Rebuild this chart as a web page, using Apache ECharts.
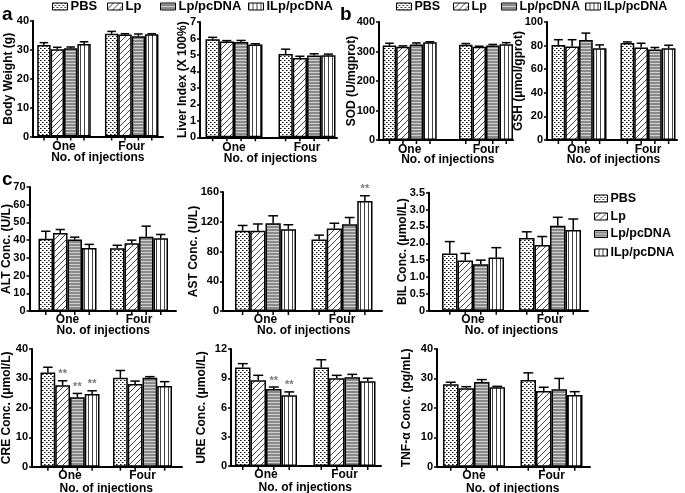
<!DOCTYPE html>
<html><head><meta charset="utf-8">
<script src="https://cdn.jsdelivr.net/npm/echarts@6/dist/echarts.min.js"></script>
<style>html,body{margin:0;padding:0;background:#fff}#c{width:685px;height:493px}</style>
</head><body><div id="c"></div>
<script>
// ---------------- DATA ----------------
const groups = ['One', 'Four'];
const seriesNames = ['PBS', 'Lp', 'Lp/pcDNA', 'ILp/pcDNA'];
// rows = treatment (PBS, Lp, Lp/pcDNA, ILp/pcDNA); columns = [One, Four]
const bodyWeightMean = [[31.7, 35.6], [30.2, 35.3], [30.6, 34.7], [32.0, 35.4]];
const bodyWeightErr  = [[0.8, 0.8], [0.7, 0.3], [0.4, 0.8], [0.8, 0.2]];
const bodyWeightTicks = [0, 10, 20, 30, 40];

const liverIndexMean = [[5.95, 5.05], [5.82, 4.82], [5.78, 4.97], [5.63, 4.98]];
const liverIndexErr  = [[0.12, 0.3], [0.05, 0.1], [0.1, 0.1], [0.05, 0.07]];
const liverIndexTicks = [0, 1, 2, 3, 4, 5, 6, 7];

const sodMean = [[320, 323], [316, 316], [324, 320], [331, 325]];
const sodErr  = [[8, 4], [3, 2], [5, 4], [2, 5]];
const sodTicks = [0, 100, 200, 300, 400];

const gshMean = [[80.6, 82.2], [79.2, 78.4], [84.8, 76.6], [77.8, 77.8]];
const gshErr  = [[4.4, 0.9], [5.8, 3.6], [5.8, 1.8], [2.8, 2.5]];
const gshTicks = [0, 20, 40, 60, 80, 100];

const altMean = [[40.8, 35.4], [44.1, 38.2], [40.4, 41.9], [35.6, 41.0]];
const altErr  = [[4.2, 1.7], [1.9, 1.8], [1.3, 6.0], [2.0, 2.2]];
const altTicks = [0, 10, 20, 30, 40, 50, 60, 70];

const astMean = [[108, 96], [108, 111], [118, 116.7], [110, 148]];
const astErr  = [[7, 6], [9, 7], [10, 9], [6, 7]];
const astSig  = [['', ''], ['', ''], ['', ''], ['', '**']];
const astTicks = [0, 40, 80, 120, 160];

const bilMean = [[1.70, 2.16], [1.49, 1.95], [1.38, 2.52], [1.58, 2.39]];
const bilErr  = [[0.35, 0.18], [0.21, 0.25], [0.12, 0.25], [0.29, 0.33]];
const bilTicks = [0, 0.5, 1.0, 1.5, 2.0, 2.5, 3.0, 3.5];

const creMean = [[32.0, 30.2], [27.7, 28.1], [23.6, 30.2], [24.7, 27.4]];
const creErr  = [[1.8, 2.5], [1.5, 1.0], [1.3, 0.4], [1.1, 1.5]];
const creSig  = [['', ''], ['**', ''], ['**', ''], ['**', '']];
const creTicks = [0, 10, 20, 30, 40];

const ureMean = [[10.1, 10.1], [8.8, 9.0], [7.9, 9.1], [7.25, 8.7]];
const ureErr  = [[0.4, 0.8], [0.5, 0.3], [0.2, 0.3], [0.35, 0.3]];
const ureSig  = [['', ''], ['', ''], ['**', ''], ['**', '']];
const ureTicks = [0, 3, 6, 9, 12];

const tnfMean = [[28.0, 29.5], [26.7, 25.7], [28.8, 26.3], [27.0, 24.4]];
const tnfErr  = [[0.7, 2.4], [0.5, 1.3], [0.8, 3.7], [0.3, 1.1]];
const tnfTicks = [0, 10, 20, 30, 40];

// ---------------- PANELS (data + axis titles) ----------------
const panels = [
  { mean: bodyWeightMean, err: bodyWeightErr, sig: null, ticks: bodyWeightTicks, title: 'Body Weight (g)' },
  { mean: liverIndexMean, err: liverIndexErr, sig: null, ticks: liverIndexTicks, title: 'Liver Index (X 100%)' },
  { mean: sodMean, err: sodErr, sig: null, ticks: sodTicks, title: 'SOD (U/mgprot)' },
  { mean: gshMean, err: gshErr, sig: null, ticks: gshTicks, title: 'GSH (μmol/gprot)' },
  { mean: altMean, err: altErr, sig: null, ticks: altTicks, title: 'ALT Conc. (U/L)' },
  { mean: astMean, err: astErr, sig: astSig, ticks: astTicks, title: 'AST Conc. (U/L)' },
  { mean: bilMean, err: bilErr, sig: null, ticks: bilTicks, title: 'BIL Conc. (μmol/L)', dec: 1 },
  { mean: creMean, err: creErr, sig: creSig, ticks: creTicks, title: 'CRE Conc. (μmol/L)' },
  { mean: ureMean, err: ureErr, sig: ureSig, ticks: ureTicks, title: 'URE Conc. (μmol/L)' },
  { mean: tnfMean, err: tnfErr, sig: null, ticks: tnfTicks, title: 'TNF-α Conc. (pg/mL)' }
];

// ---------------- LAYOUT (pixels) ----------------
// [axisLeft, axisRight, top, zeroY, groupCenter1, groupCenter2, groupWidth, yNameGap, xLabelMargin, xNameGap]
const layouts = [
  [33, 163, 21, 136.5, 64, 131.7, 53.5, 18, 4, 15],
  [200, 337, 22, 137.3, 234, 307, 57, 11, 4, 15],
  [379, 513, 22, 140, 409.7, 486, 54, 21, 4, 14],
  [547, 677, 22, 140, 579, 648, 55, 22, 4, 14],
  [29.5, 176, 187, 311, 67.5, 139, 58, 17, 3, 14],
  [223, 382, 192, 311, 265.5, 342, 61, 23, 3, 14],
  [429, 588, 192.7, 310.7, 473, 550, 62, 20, 3, 14],
  [32, 182, 349, 466.7, 70, 142.5, 59, 19, 3, 15.5],
  [231, 381, 349, 466, 266, 344.5, 62, 23, 3, 15.5],
  [437, 590, 349, 466.7, 474, 551.5, 62, 24, 3, 15.5]
];

const FONT = 'Liberation Sans';

function makePattern(kind) {
  const c = document.createElement('canvas');
  let ctx;
  if (kind === 'dots') {
    c.width = 4; c.height = 4; ctx = c.getContext('2d');
    ctx.fillStyle = '#fff'; ctx.fillRect(0, 0, 4, 4);
    ctx.fillStyle = '#111'; ctx.fillRect(0, 0, 1, 1); ctx.fillRect(2, 2, 1, 1);
    ctx.fillStyle = '#777'; ctx.fillRect(1, 0, 1, 1); ctx.fillRect(3, 2, 1, 1);
  } else if (kind === 'diag') {
    c.width = 6; c.height = 6; ctx = c.getContext('2d');
    ctx.fillStyle = '#fff'; ctx.fillRect(0, 0, 6, 6);
    ctx.strokeStyle = '#444'; ctx.lineWidth = 1;
    ctx.beginPath();
    ctx.moveTo(0, 6); ctx.lineTo(6, 0);
    ctx.moveTo(-1, 1); ctx.lineTo(1, -1);
    ctx.moveTo(5, 7); ctx.lineTo(7, 5);
    ctx.stroke();
  } else if (kind === 'hstripe') {
    c.width = 4; c.height = 3; ctx = c.getContext('2d');
    ctx.fillStyle = '#8a8a8a'; ctx.fillRect(0, 0, 4, 3);
    ctx.fillStyle = '#d0d0d0'; ctx.fillRect(0, 0, 4, 1);
  } else {
    c.width = 4; c.height = 4; ctx = c.getContext('2d');
    ctx.fillStyle = '#fff'; ctx.fillRect(0, 0, 4, 4);
    ctx.fillStyle = '#444'; ctx.fillRect(0, 0, 1, 4);
  }
  return { image: c, repeat: 'repeat' };
}
const patterns = [makePattern('dots'), makePattern('diag'), makePattern('hstripe'), makePattern('vstripe')];

function makeRender(gap, sigArr) {
  return function (params, api) {
    const cat = api.value(0), s = api.value(1), mean = api.value(2), err = api.value(3);
    const C = api.size([1, 0])[0];
    const w = C * (1 - gap) / 4;
    const p = api.coord([cat, mean]);
    const x = p[0] + (s - 1.5) * w;
    const yErr = api.coord([cat, mean + err])[1];
    const y0 = api.coord([cat, 0])[1];
    const cap = w * 0.32;
    const st = { stroke: '#000', lineWidth: 1.5 };
    const children = [
      { type: 'line', shape: { x1: x, y1: p[1], x2: x, y2: yErr }, style: st },
      { type: 'line', shape: { x1: x - cap, y1: yErr, x2: x + cap, y2: yErr }, style: st },
      { type: 'line', shape: { x1: x, y1: y0, x2: x, y2: y0 + 4 }, style: st }
    ];
    const sig = sigArr ? sigArr[s][cat] : '';
    if (sig) {
      children.push({ type: 'text', style: { text: sig, x: x, y: yErr - 1, align: 'center', verticalAlign: 'bottom', fill: '#777', font: 'bold 11px ' + FONT } });
    }
    return { type: 'group', children: children };
  };
}

const grid = [], xAxis = [], yAxis = [], series = [];
panels.forEach((pn, i) => {
  const [L, R, T, Z, c1, c2, G, nameGap, xlm, xng] = layouts[i];
  const C = c2 - c1;
  const gap = 1 - G / C;
  const min = pn.ticks[0], max = pn.ticks[pn.ticks.length - 1], interval = pn.ticks[1] - pn.ticks[0];
  grid.push({ left: L, top: T, width: R - L, height: Z - T, outerBoundsMode: 'none' });
  grid.push({ left: c1 - C / 2, top: T, width: 2 * C, height: Z - T, outerBoundsMode: 'none' });
  const fi = 2 * i, di = 2 * i + 1;
  xAxis.push({ gridIndex: fi, type: 'value', min: 0, max: 1, axisLine: { show: true, onZero: false, lineStyle: { color: '#000', width: 2 } }, axisTick: { show: false }, axisLabel: { show: false }, splitLine: { show: false } });
  xAxis.push({ gridIndex: di, type: 'category', data: groups, axisLine: { show: false }, axisTick: { show: false },
    axisLabel: { interval: 0, margin: xlm, color: '#000', fontWeight: 'bold', fontSize: 12, fontFamily: FONT },
    name: 'No. of injections', nameLocation: 'middle', nameGap: xng, nameMoveOverlap: false,
    nameTextStyle: { color: '#000', fontWeight: 'bold', fontSize: 12, fontFamily: FONT } });
  yAxis.push({ gridIndex: fi, type: 'value', min: min, max: max, interval: interval,
    axisLine: { show: true, lineStyle: { color: '#000', width: 2 } },
    axisTick: { show: true, inside: false, length: 3, lineStyle: { color: '#000', width: 1.5 } },
    axisLabel: { margin: 4, color: '#000', fontWeight: 'bold', fontSize: 11, fontFamily: FONT,
      formatter: v => (pn.dec && v !== 0) ? v.toFixed(pn.dec) : String(v) },
    splitLine: { show: false },
    name: pn.title, nameLocation: 'middle', nameGap: nameGap, nameMoveOverlap: false,
    nameTextStyle: { color: '#000', fontWeight: 'bold', fontSize: 12, fontFamily: FONT } });
  yAxis.push({ gridIndex: di, type: 'value', min: min, max: max, show: false });
  seriesNames.forEach((nm, s) => {
    series.push({ type: 'bar', name: nm, xAxisIndex: di, yAxisIndex: di, data: pn.mean[s],
      barGap: '0%', barCategoryGap: (gap * 100).toFixed(2) + '%',
      itemStyle: { color: patterns[s], borderColor: '#000', borderWidth: 1.5 },
      emphasis: { disabled: true }, silent: true });
  });
  const cdata = [];
  seriesNames.forEach((nm, s) => groups.forEach((g, c) => cdata.push([c, s, pn.mean[s][c], pn.err[s][c]])));
  series.push({ type: 'custom', xAxisIndex: di, yAxisIndex: di, data: cdata, encode: { x: 0, y: 2 },
    renderItem: makeRender(gap, pn.sig), z: 10, clip: false, silent: true });
});

function legendItem(name, s, left, top, iw, ih, fs) {
  return { left: left, top: top, padding: 0, selectedMode: false, itemWidth: iw, itemHeight: ih, itemGap: 0,
    data: [{ name: name, icon: 'rect', itemStyle: { color: patterns[s], borderColor: '#000', borderWidth: 1 } }],
    textStyle: { color: '#000', fontWeight: 'bold', fontSize: fs, fontFamily: FONT, padding: [0, 0, 0, -2] } };
}
const legend = [];
[52, 107, 160, 248].forEach((x, s) => legend.push(legendItem(seriesNames[s], s, x, 0, 15, 7, 13)));
[396, 453, 501, 585].forEach((x, s) => legend.push(legendItem(seriesNames[s], s, x, 0, 15, 7, 12.5)));
[192, 210, 227.5, 246].forEach((y, s) => legend.push(legendItem(seriesNames[s], s, 594, y, 13, 7, 12.5)));

const chart = echarts.init(document.getElementById('c'), null, { renderer: 'canvas' });
chart.setOption({
  animation: false,
  backgroundColor: '#fff',
  grid: grid, xAxis: xAxis, yAxis: yAxis, series: series, legend: legend,
  graphic: [
    { type: 'text', left: 2, top: 5, style: { text: 'a', font: 'bold 19px ' + FONT, fill: '#000' } },
    { type: 'text', left: 340, top: 5, style: { text: 'b', font: 'bold 19px ' + FONT, fill: '#000' } },
    { type: 'text', left: 2, top: 170, style: { text: 'c', font: 'bold 19px ' + FONT, fill: '#000' } }
  ]
});
</script></body></html>
